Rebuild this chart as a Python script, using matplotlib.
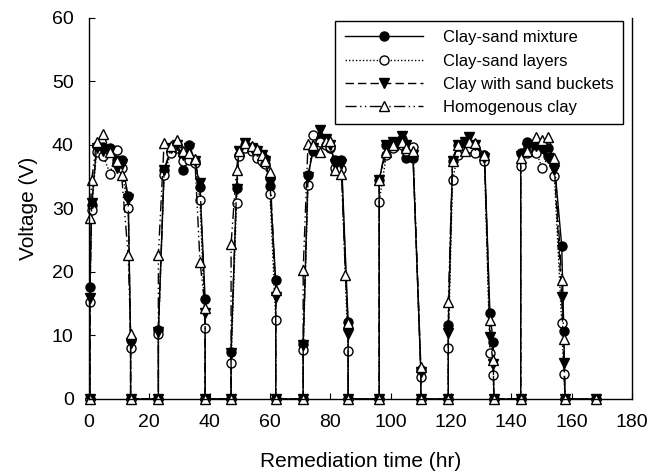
import numpy as np
import matplotlib
matplotlib.use("Agg")
import matplotlib.pyplot as plt

# ── Data ────────────────────────────────────────────────────
hours = [
    0.3, 0.3, 0.9, 2.5, 4.7, 7.0, 9.2, 10.8, 13.0, 13.8, 13.8,
    23.0, 23.0, 24.9, 27.1, 29.1, 31.0, 33.3, 35.1, 36.8, 38.5, 38.5,
    47.1, 47.1, 48.9, 49.6, 51.8, 54.0, 55.6, 57.3, 58.4, 60.0, 61.9, 61.9,
    71.0, 71.0, 72.6, 74.3, 76.5, 78.5, 80.0, 81.5, 83.7, 85.0, 85.9, 85.9,
    96.2, 96.2, 98.6, 100.8, 103.6, 105.2, 107.4, 110.0, 110.0,
    119.1, 119.1, 120.5, 122.3, 124.5, 125.9, 127.8, 131.1, 132.9, 134.0, 134.2,
    143.1, 143.1, 145.3, 148.3, 150.3, 152.3, 154.3, 156.7, 157.4, 157.8,
    168.0,
]

mixture = [
    0, 17.7, 30.5, 39.8, 39.7, 39.5, 37.6, 37.6, 31.9, 9.3, 0,
    0, 10.8, 36.1, 38.9, 40.0, 36.1, 40.0, 37.5, 33.4, 15.8, 0,
    0, 7.4, 33.2, 38.5, 40.0, 39.5, 39.0, 38.3, 37.8, 33.5, 18.8, 0,
    0, 8.6, 35.3, 39.0, 41.0, 40.5, 39.5, 37.6, 37.6, None, 12.2, 0,
    0, 34.5, 40.0, 40.0, 41.0, 38.0, 38.0, 4.6, 0,
    0, 11.7, 37.4, 40.0, 40.0, 40.0, 39.5, 38.5, 13.5, 9.0, 0,
    0, 38.7, 40.4, 39.5, 39.6, 39.6, 37.0, 24.1, 10.7, 0,
    0,
]

layers = [
    0, 15.3, 29.8, 38.9, 38.3, 35.5, 39.2, 36.3, 30.0, 8.0, 0,
    0, 10.3, 35.3, 38.8, 39.5, 37.5, 37.6, 37.2, 31.3, 11.1, 0,
    0, 5.7, 30.8, 38.3, 39.5, 39.0, 38.0, 37.5, 37.0, 32.3, 12.5, 0,
    0, 7.7, 33.7, 41.6, 40.5, 40.0, 39.7, 36.3, 36.2, None, 7.5, 0,
    0, 31.1, 38.5, 39.5, 40.0, 39.0, 39.7, 3.5, 0,
    0, 8.0, 34.5, 38.5, 39.0, 39.5, 38.7, 37.4, 7.2, 3.8, 0,
    0, 36.7, 38.8, 38.8, 36.3, 38.3, 35.1, 11.9, 4.0, 0,
    0,
]

buckets = [
    0, 15.9, 30.8, 39.5, 39.0, 39.0, 36.3, 37.0, 31.5, 8.8, 0,
    0, 10.5, 36.0, 39.5, 40.0, 38.5, 39.5, 37.5, 34.0, 13.5, 0,
    0, 7.2, 33.0, 39.0, 40.3, 39.5, 39.0, 38.5, 37.5, 34.0, 16.1, 0,
    0, 8.5, 35.0, 39.5, 42.4, 41.0, 40.0, 37.0, 37.0, None, 10.3, 0,
    0, 34.5, 40.0, 40.5, 41.4, 40.0, 38.5, 4.2, 0,
    0, 10.4, 37.4, 40.0, 40.5, 41.3, 40.0, 38.0, 9.8, 5.5, 0,
    0, 38.2, 39.5, 39.8, 39.6, 38.0, 36.1, 16.1, 5.6, 0,
    0,
]

homogenous = [
    0, 28.5, 34.5, 40.5, 41.8, 38.9, 37.4, 35.3, 22.6, 10.3, 0,
    0, 22.7, 40.3, 39.8, 40.8, 39.0, 38.8, 37.8, 21.6, 14.3, 0,
    0, 24.4, 36.1, 39.0, 40.3, 39.8, 39.3, 38.5, 37.5, 35.8, 17.2, 0,
    0, 20.3, 40.2, 40.0, 38.9, 40.7, 40.7, 36.0, 35.5, 19.5, 11.9, 0,
    0, 34.5, 38.9, 40.0, 40.5, 39.5, 39.0, 5.1, 0,
    0, 15.3, 37.5, 40.0, 39.0, 40.5, 40.3, 38.5, 12.4, 6.1, 0,
    0, 38.0, 39.0, 41.3, 40.8, 41.3, 38.0, 18.8, 9.4, 0,
    0,
]

labels = ["Clay-sand mixture", "Clay-sand layers",
          "Clay with sand buckets", "Homogenous clay"]

# ── Style ────────────────────────────────────────────────────
plt.rcParams.update({
    "font.family": ["Liberation Sans", "DejaVu Sans"],
    "xtick.direction": "in",
    "ytick.direction": "in",
})

fig = plt.figure(figsize=(6.65, 4.76), dpi=100)
ax = fig.add_axes([0.1338, 0.1618, 0.8166, 0.8004])

styles = [
    dict(linestyle="-", marker="o", mfc="black"),
    dict(linestyle=(0, (1, 1.5)), marker="o", mfc="white"),
    dict(linestyle=(0, (6, 3)), marker="v", mfc="black"),
    dict(linestyle=(0, (8, 2.5, 1, 2.5, 1, 2.5)), marker="^", mfc="white"),
]

t = np.array(hours, dtype=float)
for vals, lab, st in zip([mixture, layers, buckets, homogenous], labels, styles):
    v = np.array([np.nan if x is None else x for x in vals], dtype=float)
    ok = ~np.isnan(v)
    ax.plot(t[ok], v[ok], color="black", lw=1.0, ms=6.5, mec="black",
            mew=1.0, label=lab, clip_on=False, **st)

ax.set_xlim(0, 180)
ax.set_ylim(0, 60)
ax.set_xticks(range(0, 181, 20))
ax.set_yticks(range(0, 61, 10))
ax.tick_params(labelsize=14, length=4, width=0.8, pad=11)
ax.spines["top"].set_visible(False)
for s in ["left", "bottom", "right"]:
    ax.spines[s].set_linewidth(1.0)

ax.set_xlabel("Remediation time (hr)", fontsize=15, labelpad=15)
ax.set_ylabel("Voltage (V)", fontsize=15, labelpad=10)

leg = ax.legend(loc="upper right", bbox_to_anchor=(0.983, 0.992),
                borderaxespad=0, fontsize=12, handlelength=4.7,
                handletextpad=1.2, labelspacing=0.5, borderpad=0.55,
                fancybox=False, edgecolor="black", framealpha=1,
                numpoints=1)
leg.get_frame().set_linewidth(1.0)

fig.savefig("out.png", dpi=100)
